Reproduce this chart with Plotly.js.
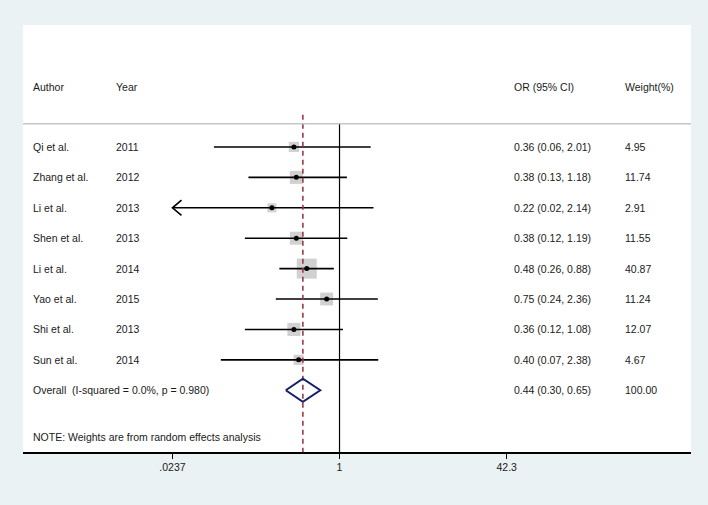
<!DOCTYPE html>
<html>
<head>
<meta charset="utf-8">
<script src="https://cdn.plot.ly/plotly-3.0.1.min.js"></script>
<style>html,body{margin:0;padding:0;background:#eaf2f3;}#chart{width:708px;height:505px;}</style>
</head>
<body>
<div id="chart"></div>
<script>
// ---- data ----
const authors = ['Qi et al.', 'Zhang et al.', 'Li et al.', 'Shen et al.', 'Li et al.', 'Yao et al.', 'Shi et al.', 'Sun et al.'];
const years = ['2011', '2012', '2013', '2013', '2014', '2015', '2013', '2014'];
const orVals = [0.36, 0.38, 0.22, 0.38, 0.48, 0.75, 0.36, 0.40];
const ciLow = [0.06, 0.13, 0.02, 0.12, 0.26, 0.24, 0.12, 0.07];
const ciHigh = [2.01, 1.18, 2.14, 1.19, 0.88, 2.36, 1.08, 2.38];
const weights = [4.95, 11.74, 2.91, 11.55, 40.87, 11.24, 12.07, 4.67];
const overallOR = 0.44;
const overallLow = 0.30;
const overallHigh = 0.65;
const overallWeight = 100.00;
const overallLabel = 'Overall\u00a0\u00a0(I-squared = 0.0%, p = 0.980)';
const noteText = 'NOTE: Weights are from random effects analysis';
const headers = ['Author', 'Year', 'OR (95% CI)', 'Weight(%)'];
const tickVals = [0.0237, 1, 42.3];
const tickLabels = ['.0237', '1', '42.3'];

// ---- layout helpers ----
const FONT = 'Liberation Sans, Arial, sans-serif';
const FS = 10.5;
const TXT = '#1a1a1a';
const axMin = tickVals[0], axMax = tickVals[tickVals.length - 1];
const rows = authors.map((_, i) => i);
const overallRow = authors.length;
const headerRow = -1.97;
const sepRow = -0.76;
const noteRow = 9.54;
const yBottom = 10.03, yTop = -4.01;
const colX = [0.012, 0.136, 0.732, 0.898];

const traces = [];

// weight squares
traces.push({
  type: 'scatter', mode: 'markers', x: orVals, y: rows,
  marker: {symbol: 'square', color: '#bdbdbd', size: weights.map(w => 5 + 15 * Math.sqrt(w / 40.87)), line: {width: 0}},
  hoverinfo: 'skip', showlegend: false
});

// CI lines (clipped to axis range)
const cx = [], cy = [];
rows.forEach(i => {
  cx.push(Math.max(ciLow[i], axMin), Math.min(ciHigh[i], axMax), null);
  cy.push(i, i, null);
});
traces.push({type: 'scatter', mode: 'lines', x: cx, y: cy, line: {color: '#000', width: 1.6}, hoverinfo: 'skip', showlegend: false});

// arrows for clipped CIs
const ax = [], ay = [];
rows.forEach(i => {
  if (ciLow[i] < axMin) {
    const tip = axMin, arm = axMin * Math.pow(10, 0.088);
    ax.push(arm, tip, arm, null);
    ay.push(i - 0.25, i, i + 0.25, null);
  }
  if (ciHigh[i] > axMax) {
    const tip = axMax, arm = axMax / Math.pow(10, 0.088);
    ax.push(arm, tip, arm, null);
    ay.push(i - 0.25, i, i + 0.25, null);
  }
});
traces.push({type: 'scatter', mode: 'lines', x: ax, y: ay, line: {color: '#000', width: 1.6}, hoverinfo: 'skip', showlegend: false});

// point estimates
traces.push({type: 'scatter', mode: 'markers', x: orVals, y: rows, marker: {symbol: 'circle', color: '#000', size: 5}, hoverinfo: 'skip', showlegend: false});

// line of no effect
traces.push({type: 'scatter', mode: 'lines', x: [1, 1], y: [sepRow, yBottom + 1], line: {color: '#000', width: 1.2}, hoverinfo: 'skip', showlegend: false});

// overall dashed line
traces.push({type: 'scatter', mode: 'lines', x: [overallOR, overallOR], y: [sepRow - 0.3, yBottom + 1], line: {color: '#9b3a46', width: 1.6, dash: '5px,4px'}, hoverinfo: 'skip', showlegend: false});

// overall diamond
const dh = 0.38;
traces.push({
  type: 'scatter', mode: 'lines',
  x: [overallLow, overallOR, overallHigh, overallOR, overallLow],
  y: [overallRow, overallRow - dh, overallRow, overallRow + dh, overallRow],
  line: {color: '#141f6e', width: 2}, hoverinfo: 'skip', showlegend: false
});

// text annotations
const ann = [];
function txt(x, y, t) {
  ann.push({xref: 'paper', yref: 'y', x: x, y: y, text: t, showarrow: false, xanchor: 'left', yanchor: 'middle', font: {family: FONT, size: FS, color: TXT}});
}
headers.forEach((h, k) => txt(colX[k], headerRow, h));
rows.forEach(i => {
  txt(colX[0], i, authors[i]);
  txt(colX[1], i, years[i]);
  txt(colX[2], i, `${orVals[i].toFixed(2)} (${ciLow[i].toFixed(2)}, ${ciHigh[i].toFixed(2)})`);
  txt(colX[3], i, weights[i].toFixed(2));
});
txt(colX[0], overallRow, overallLabel);
txt(colX[2], overallRow, `${overallOR.toFixed(2)} (${overallLow.toFixed(2)}, ${overallHigh.toFixed(2)})`);
txt(colX[3], overallRow, overallWeight.toFixed(2));
txt(colX[0], noteRow, noteText);

const layout = {
  width: 708, height: 505,
  margin: {l: 23, r: 17, t: 25, b: 53},
  paper_bgcolor: '#eaf2f3', plot_bgcolor: '#ffffff',
  showlegend: false,
  xaxis: {
    type: 'log', range: [-3.079, 3.419], tickvals: tickVals, ticktext: tickLabels,
    ticks: 'outside', ticklen: 5, tickwidth: 1.2, tickcolor: '#000',
    showline: true, linecolor: '#000', linewidth: 1.5,
    showgrid: false, zeroline: false, fixedrange: true,
    tickfont: {family: FONT, size: FS, color: TXT}
  },
  yaxis: {range: [yBottom, yTop], visible: false, fixedrange: true},
  shapes: [
    {type: 'line', xref: 'paper', yref: 'y', x0: 0, x1: 1, y0: sepRow, y1: sepRow, line: {color: '#c6c6c6', width: 1.5}}
  ],
  annotations: ann
};

Plotly.newPlot('chart', traces, layout, {displayModeBar: false, staticPlot: true});
</script>
</body>
</html>
